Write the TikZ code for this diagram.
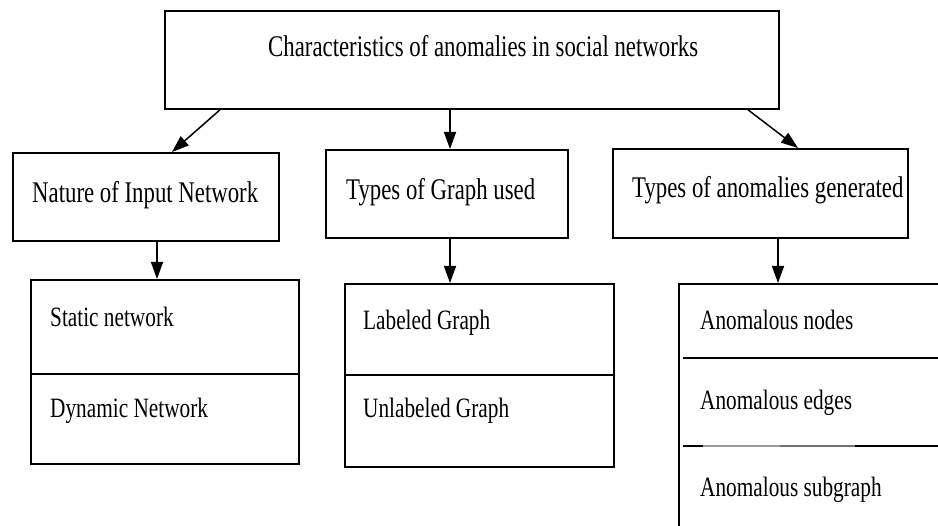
\documentclass[tikz,border=0pt]{standalone}
\usepackage{fontspec}
\setmainfont{Liberation Serif}[FakeStretch=0.76]
\usetikzlibrary{arrows.meta}
\begin{document}
\begin{tikzpicture}[x=1pt,y=-1pt,
  box/.style={draw, line width=1.8pt, rectangle, inner sep=0pt, anchor=north west},
  head/.style={font=\fontsize{30}{32}\selectfont, inner sep=0pt, anchor=base west},
  item/.style={font=\fontsize{28}{30}\selectfont, inner sep=0pt, anchor=base west},
  arr/.style={line width=1.5pt, -{Triangle[length=17pt,width=12pt]}},
  sep/.style={line width=1.8pt}]
\clip (0,0) rectangle (938,526);
\fill[white] (0,0) rectangle (938,526);

% root
\node[box, minimum width=614pt, minimum height=98pt] (root) at (164,10) {};
\node[head] (troot) at (268,57) {Characteristics of anomalies in social networks};

% second level
\node[box, minimum width=266pt, minimum height=88pt] (nature) at (12,152) {};
\node[box, minimum width=242pt, minimum height=88pt] (tgraph) at (325,149) {};
\node[box, minimum width=295pt, minimum height=89pt] (tanom) at (612,148) {};
\node[head] (tnature) at (32,203) {Nature of Input Network};
\node[head] (ttgraph) at (346,200) {Types of Graph used};
\node[head] (ttanom) at (632,198) {Types of anomalies generated};

% third level
\node[box, minimum width=268pt, minimum height=184pt] (static) at (30,279) {};
\node[box, minimum width=269pt, minimum height=183pt] (labeled) at (344,283) {};
\node[box, minimum width=300pt, minimum height=300pt] (anom) at (678,283) {};

\draw[sep] ([yshift=-95pt]static.north west) -- ([yshift=-95pt]static.north east);
\draw[sep] ([yshift=-92pt]labeled.north west) -- ([yshift=-92pt]labeled.north east);
\draw[sep] ([xshift=5pt,yshift=-75pt]anom.north west) -- ([xshift=260pt,yshift=-75pt]anom.north west);
\draw[sep] ([xshift=5pt,yshift=-163pt]anom.north west) -- ([xshift=260pt,yshift=-163pt]anom.north west);
\draw[line width=1.8pt, black!40] ([xshift=25pt,yshift=-163pt]anom.north west) -- ([xshift=102pt,yshift=-163pt]anom.north west);
\draw[line width=1.8pt, black!55] ([xshift=102pt,yshift=-163pt]anom.north west) -- ([xshift=177pt,yshift=-163pt]anom.north west);

\node[item] (s1) at (50,327) {Static network};
\node[item] (s2) at (50,418) {Dynamic Network};
\node[item] (l1) at (363,330) {Labeled Graph};
\node[item] (l2) at (363,418) {Unlabeled Graph};
\node[item] (a1) at (700,330) {Anomalous nodes};
\node[item] (a2) at (700,410) {Anomalous edges};
\node[item] (a3) at (700,497) {Anomalous subgraph};

% connectors
\draw[arr] ([xshift=56pt]root.south west) -- ([xshift=160pt]nature.north west);
\draw[arr] ([xshift=286pt]root.south west) -- ([xshift=125pt]tgraph.north west);
\draw[arr] ([xshift=584pt]root.south west) -- ([xshift=186pt]tanom.north west);
\draw[arr] ([xshift=145pt]nature.south west) -- ([xshift=127pt]static.north west);
\draw[arr] ([xshift=125pt]tgraph.south west) -- ([xshift=106pt]labeled.north west);
\draw[arr] ([xshift=166pt]tanom.south west) -- ([xshift=100pt]anom.north west);
\end{tikzpicture}
\end{document}
